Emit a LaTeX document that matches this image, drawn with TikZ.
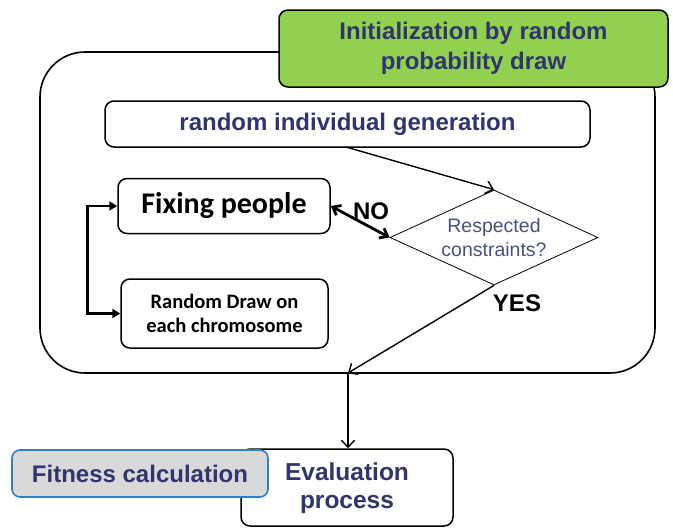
\documentclass[tikz,border=0pt]{standalone}
\usepackage{fontspec}
\setmainfont{Liberation Sans}
\newfontfamily\calib{Carlito}
\usetikzlibrary{shapes.geometric,arrows.meta}
\definecolor{navy}{HTML}{31346E}
\definecolor{greenfill}{HTML}{92D050}
\definecolor{grayfill}{HTML}{D9D9D9}
\definecolor{blueedge}{HTML}{2E7FC4}
\definecolor{diamtext}{HTML}{4A4F85}
\tikzset{
  box/.style={draw=black, line width=1.5pt, rounded corners=9pt, fill=white, inner sep=0pt, align=center},
  navytxt/.style={text=navy, font=\bfseries\fontsize{24}{29}\selectfont},
  thinarrow/.style={line width=1.4pt, -{Straight Barb[length=7pt,width=13pt]}},
  bracketarrow/.style={line width=2.8pt, {Triangle[length=8pt,width=9pt]}-{Triangle[length=8pt,width=9pt]}},
  noarrow/.style={line width=2.8pt, {Straight Barb[length=7pt,width=11pt]}-{Straight Barb[length=7pt,width=11pt]}}
}
\begin{document}
\begin{tikzpicture}[x=1pt,y=-1pt]
\useasboundingbox (0,0) rectangle (673,528);
% outer frame
\draw[line width=1.6pt, rounded corners=45pt] (40,52) rectangle (655,373);
% title
\node[box, fill=greenfill, minimum width=389pt, minimum height=77pt, navytxt, font=\bfseries\fontsize{24}{30}\selectfont] (title) at (473.5,48.5) {Initialization by random\\probability draw};
% generation
\node[box, minimum width=485pt, minimum height=46pt, navytxt] (gen) at (347.5,124) {random individual generation};
% fixing
\node[box, minimum width=212pt, minimum height=55pt, font=\calib\bfseries\fontsize{30}{34}\selectfont] (fix) at (224,206) {Fixing people};
% random draw
\node[box, minimum width=207pt, minimum height=69pt, font=\calib\bfseries\fontsize{20.5}{24}\selectfont] (rd) at (224.5,313.5) {Random Draw on\\each chromosome};
% diamond
\node[diamond, draw=black, line width=0.8pt, minimum width=208pt, minimum height=95pt, aspect=2.19, inner sep=0pt, align=center, text=diamtext, font=\fontsize{19.5}{24}\selectfont] (dia) at (494,237.5) {Respected\\constraints?};
% labels
\node[font=\bfseries\fontsize{24}{28}\selectfont] (no) at (371,211) {NO};
\node[font=\bfseries\fontsize{24}{28}\selectfont] (yes) at (517,303) {YES};
% evaluation
\node[box, minimum width=212pt, minimum height=77pt, navytxt, font=\bfseries\fontsize{24.5}{28}\selectfont, text depth=3pt] (eval) at (347,487.5) {Evaluation\\process};
\node[box, draw=blueedge, fill=grayfill, rounded corners=8pt, line width=1.6pt, minimum width=256pt, minimum height=47pt, navytxt] (fit) at (140,473.5) {Fitness calculation};
% connectors
\coordinate (merge) at (348,373);
\coordinate (gs) at (346,147);
\draw[thinarrow] (gs) -- (dia.north);
\draw[noarrow] (fix.east) -- (dia.west);
\draw[bracketarrow] (fix.west) -- ++(-30,0) |- (rd.west);
\draw[thinarrow] (dia.south) -- (merge);
\draw[thinarrow] (merge) -- (eval.north -| merge);
\end{tikzpicture}
\end{document}
